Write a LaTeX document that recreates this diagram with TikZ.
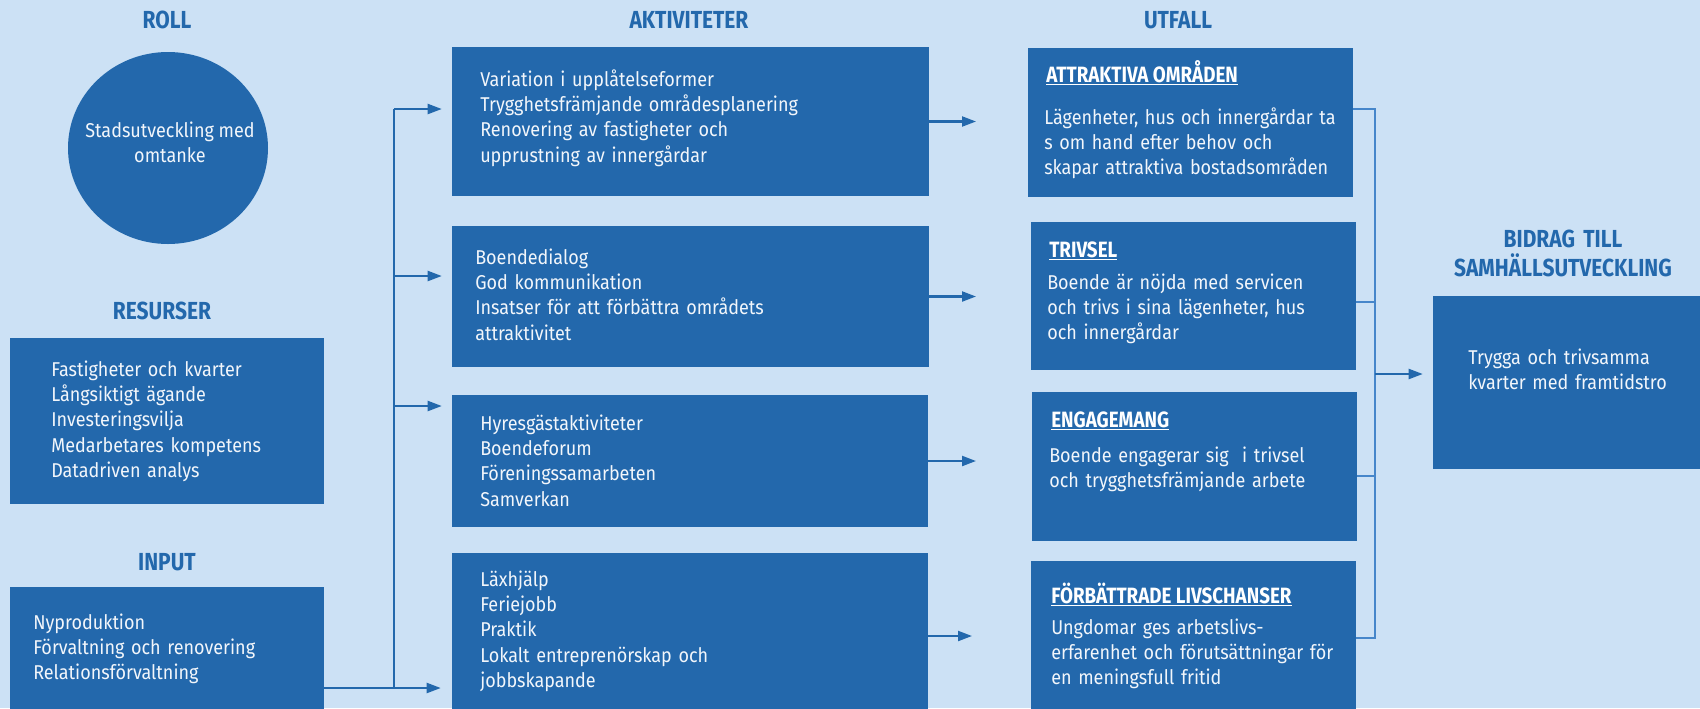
\documentclass[tikz,border=0pt]{standalone}
\usepackage{fontspec}
\setmainfont{Fira Sans}[FakeStretch=0.9,BoldFeatures={FakeStretch=0.85}]
\usetikzlibrary{shapes,arrows.meta}
\definecolor{bakgrund}{RGB}{204,225,245}
\definecolor{ruta}{RGB}{35,104,172}
\definecolor{samlinje}{RGB}{70,134,202}
\definecolor{ljus}{RGB}{242,246,251}
\newcommand{\brod}{\fontsize{15}{19.1}\selectfont}
\newcommand{\rubrik}{\fontsize{18.5}{21.75}\selectfont\bfseries}
\newcommand{\mellan}{\fontsize{16.6}{19}\selectfont\bfseries}

\begin{document}
\begin{tikzpicture}[x=0.75pt,y=0.75pt,yscale=-1,xscale=1,
  box/.style={rectangle,fill=ruta,draw=none,inner sep=0},
  titel/.style={text=ruta,font=\rubrik,anchor=base,align=center,text width=250pt,inner sep=0},
  txt/.style={text=ljus,font=\brod,anchor=base west,align=left,text width=300pt,inner sep=0},
  head/.style={text=white,font=\mellan,anchor=base west,inner sep=0},
  pil/.style={draw=ruta,line width=1.6pt,-{Triangle[length=10.5pt,width=7.5pt]}},
  samla/.style={draw=samlinje,line width=0.8pt}]
\useasboundingbox (0,0) rectangle (1700,708);
\fill[bakgrund] (0,0) rectangle (1700,708);

% rutor
\node[ellipse,fill=ruta,minimum width=150pt,minimum height=144pt] (roll) at (168,148) {};
\node[box,minimum width=235.5pt,minimum height=124.5pt] (res) at (167,421) {};
\node[box,minimum width=235.5pt,minimum height=99.75pt] (inp) at (167,653.5) {};
\node[box,minimum width=357.75pt,minimum height=111.75pt] (akt1) at (690.5,121.5) {};
\node[box,minimum width=357.75pt,minimum height=105.75pt] (akt2) at (690.5,296.5) {};
\node[box,minimum width=357pt,minimum height=99pt] (akt3) at (690,461) {};
\node[box,minimum width=357pt,minimum height=124.5pt] (akt4) at (690,636) {};
\node[box,minimum width=243.75pt,minimum height=111.75pt] (utf1) at (1190.5,122.5) {};
\node[box,minimum width=243.75pt,minimum height=111pt] (utf2) at (1193.5,296) {};
\node[box,minimum width=243.75pt,minimum height=111.75pt] (utf3) at (1194.5,466.5) {};
\node[box,minimum width=243.75pt,minimum height=115.5pt] (utf4) at (1193.5,638) {};
\node[box,minimum width=200.25pt,minimum height=129.75pt] (bidrag) at (1566.5,382.5) {};

% pilar in
\coordinate (g1) at (394,109);
\coordinate (g2) at (394,276);
\coordinate (g3) at (394,406);
\coordinate (g4) at (394,688);
\draw[ruta,line width=1.6pt] (g1) -- (g4);
\draw[pil,shorten >=7.5pt] (g1) -- (g1 -| akt1.west);
\draw[pil,shorten >=7.5pt] (g2) -- (g2 -| akt2.west);
\draw[pil,shorten >=7.5pt] (g3) -- (g3 -| akt3.west);
\draw[pil,shorten >=8.25pt] (inp.east |- g4) -- (g4 -| akt4.west);

% pilar ut
\coordinate (spets) at (976,0);
\draw[pil] (akt1) -- (akt1 -| spets);
\draw[pil] (akt2) -- (akt2 -| spets);
\draw[pil] (akt3) -- (akt3 -| spets);
\draw[pil,shorten >=3pt] (akt4) -- (akt4 -| spets);

% samlingslinje
\coordinate (s1) at (1375,109);
\coordinate (s2) at (1375,302);
\coordinate (s3) at (1375,476);
\coordinate (s4) at (1375,638);
\coordinate (s5) at (1375,374);
\draw[samla] (s1 -| utf1.east) -- (s1) -- (s4) -- (s4 -| utf4.east);
\draw[samla] (s2 -| utf2.east) -- (s2);
\draw[samla] (s3 -| utf3.east) -- (s3);
\draw[pil,shorten >=7.5pt] (s5) -- (s5 -| bidrag.west);

% rubriker
\node[titel] (trubrik) at (167,28.5) {ROLL};
\node[titel] (resrubrik) at (162,319.5) {RESURSER};
\node[titel] (inprubrik) at (167,570.5) {INPUT};
\node[titel] (aktrubrik) at (689,28.5) {AKTIVITETER};
\node[titel] (utfrubrik) at (1178,28.5) {UTFALL};
\node[titel] (bidrubrik) at (1563,247) {BIDRAG TILL\\SAMHÄLLSUTVECKLING};

% texter
\node[text=ljus,font=\fontsize{15}{19}\selectfont,align=center,inner sep=0] (rolltxt) at (170,142.5) {Stadsutveckling med\\omtanke};
\node[txt] (restxt) at (51,376) {Fastigheter och kvarter\\Långsiktigt ägande\\Investeringsvilja\\Medarbetares kompetens\\Datadriven analys};
\node[txt] (inptxt) at (33,629) {Nyproduktion\\Förvaltning och renovering\\Relationsförvaltning};
\node[txt] (akt1txt) at (480,86) {Variation i upplåtelseformer\\Trygghetsfrämjande områdesplanering\\Renovering av fastigheter och\\upprustning av innergårdar};
\node[txt] (akt2txt) at (475,264) {Boendedialog\\God kommunikation\\Insatser för att förbättra områdets\\attraktivitet};
\node[txt] (akt3txt) at (480,430) {Hyresgästaktiviteter\\Boendeforum\\Föreningssamarbeten\\Samverkan};
\node[txt] (akt4txt) at (480,586) {Läxhjälp\\Feriejobb\\Praktik\\Lokalt entreprenörskap och\\jobbskapande};

\node[head] (utf1head) at (1046,82.5) {\underline{ATTRAKTIVA OMRÅDEN}};
\node[txt] (utf1txt) at (1044,124) {Lägenheter, hus och innergårdar ta\\s om hand efter behov och\\skapar attraktiva bostadsområden};
\node[head] (utf2head) at (1049,257.5) {\underline{TRIVSEL}};
\node[txt] (utf2txt) at (1047,289) {Boende är nöjda med servicen\\och trivs i sina lägenheter, hus\\och innergårdar};
\node[head] (utf3head) at (1051,427.5) {\underline{ENGAGEMANG}};
\node[txt] (utf3txt) at (1049,462) {Boende engagerar sig\ \ i trivsel\\och trygghetsfrämjande arbete};
\node[head] (utf4head) at (1051,603.5) {\underline{FÖRBÄTTRADE LIVSCHANSER}};
\node[txt] (utf4txt) at (1051,634) {Ungdomar ges arbetslivs-\\erfarenhet och förutsättningar för\\en meningsfull fritid};
\node[txt] (bidtxt) at (1468,364) {Trygga och trivsamma\\kvarter med framtidstro};
\end{tikzpicture}
\end{document}
